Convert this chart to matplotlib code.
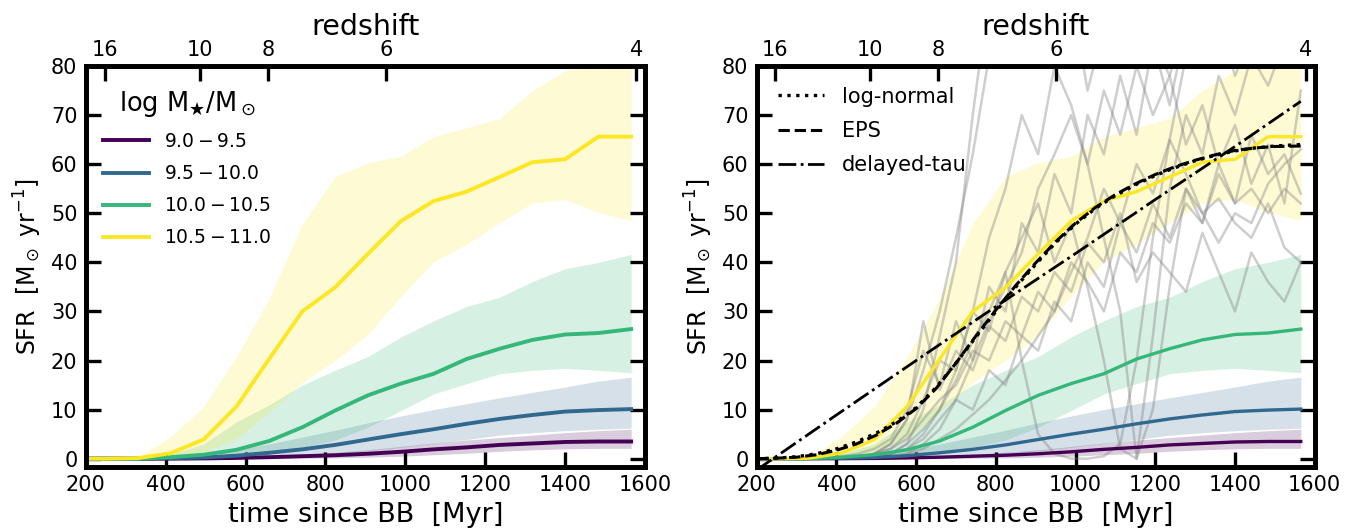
import numpy as np
import matplotlib
matplotlib.use("Agg")
import matplotlib.pyplot as plt
from matplotlib.lines import Line2D

plt.rcParams['font.family'] = ['DejaVu Sans']
plt.rcParams['mathtext.fontset'] = 'dejavusans'

# binned medians and 16-84 bands (time since Big Bang, Myr)
t_bin = [165, 248, 330, 412, 495, 577, 659, 742, 824, 906, 989, 1071, 1153, 1236, 1318, 1400, 1483, 1565]

sfr_95 = [0, 0, 0, 0, 0.05, 0.15, 0.3, 0.5, 0.7, 1.0, 1.4, 1.9, 2.3, 2.8, 3.1, 3.4, 3.5, 3.5]
lo_95 = [0, 0, 0, 0, 0, 0.02, 0.05, 0.1, 0.15, 0.3, 0.5, 0.8, 1.1, 1.5, 1.8, 2.0, 2.1, 2.1]
hi_95 = [0, 0, 0, 0, 0.1, 0.3, 0.6, 0.9, 1.3, 1.8, 2.5, 3.2, 3.8, 4.3, 4.8, 5.3, 5.7, 6.0]

sfr_100 = [0, 0, 0, 0.1, 0.25, 0.6, 1.2, 1.9, 2.8, 3.9, 5.0, 6.0, 7.1, 8.1, 8.9, 9.6, 9.9, 10.1]
lo_100 = [0, 0, 0, 0, 0.05, 0.15, 0.35, 0.6, 0.9, 1.6, 2.3, 3.1, 3.9, 4.8, 5.3, 5.7, 6.0, 6.2]
hi_100 = [0, 0, 0, 0.3, 0.8, 1.8, 3.0, 4.4, 5.8, 7.3, 8.7, 10.0, 11.2, 12.4, 13.5, 14.6, 15.8, 16.6]

sfr_105 = [0, 0, 0, 0.3, 0.8, 1.8, 3.6, 6.4, 9.8, 12.9, 15.3, 17.3, 20.3, 22.4, 24.2, 25.3, 25.6, 26.4]
lo_105 = [0, 0, 0, 0, 0.2, 0.5, 1.2, 2.3, 3.8, 6.4, 9.8, 13.2, 15.3, 17.3, 18.0, 18.4, 18.0, 17.5]
hi_105 = [0, 0, 0.2, 1.0, 3.0, 7.5, 11.0, 15.0, 18.0, 20.8, 24.8, 28.1, 31.0, 32.9, 36.1, 38.7, 40.0, 41.6]

sfr_110 = [0, 0, 0.1, 1.1, 3.9, 10.6, 20.3, 30.0, 34.9, 41.7, 48.4, 52.5, 54.4, 57.4, 60.4, 61.0, 65.6, 65.6]
lo_110 = [0, 0, 0, 0.2, 1.3, 4.0, 9.5, 15.5, 20.0, 25.3, 33.1, 40.2, 43.7, 48.1, 52.1, 52.8, 50.2, 48.5]
hi_110 = [0, 0, 0.3, 4.4, 10.6, 20.7, 32.6, 47.8, 57.4, 60.3, 61.6, 65.6, 67.4, 69.3, 75.0, 79.0, 82.0, 83.0]

bin_labels = [r'$9.0-9.5$', r'$9.5-10.0$', r'$10.0-10.5$', r'$10.5-11.0$']
bin_colors = ['#440154', '#31688e', '#35b779', '#fde725']

# parametric fits to the most massive bin
t_fit = [200, 250, 300, 350, 400, 450, 500, 550, 600, 650, 700, 750, 800, 850, 900,
         950, 1000, 1050, 1100, 1150, 1200, 1250, 1300, 1350, 1400, 1450, 1500, 1565]
sfr_lognormal = [0, 0.1, 0.4, 1.0, 2.0, 3.4, 5.2, 7.5, 10.4, 14.5, 19.5, 24.8, 30.0, 35.0, 39.6,
                 44.0, 47.8, 51.0, 53.6, 55.8, 57.7, 59.3, 60.7, 61.8, 62.7, 63.3, 63.7, 64.0]
sfr_eps = [0, 0.1, 0.3, 0.8, 1.7, 3.0, 4.8, 7.2, 10.2, 14.3, 19.5, 25.0, 30.3, 35.3, 39.9,
           44.2, 48.0, 51.2, 53.8, 56.0, 57.9, 59.5, 60.8, 61.9, 62.8, 63.3, 63.6, 63.7]
t_tau = [200, 400, 600, 800, 1000, 1200, 1400, 1565]
sfr_tau = [-2.3, 8.9, 20.0, 31.0, 41.8, 52.8, 63.6, 72.8]

# individual histories
t_ind = [371, 412, 453, 495, 536, 577, 618, 659, 700, 742, 783, 824, 865, 906, 947,
         989, 1030, 1071, 1112, 1153, 1194, 1236, 1277, 1318, 1359, 1400, 1441, 1483, 1524, 1565]
ind_tracks = [
    [0, 0, 0.5, 1, 3, 8, 18, 30, 45, 62, 82, 88, 84, 90, 86, 92, 88, 95, 90, 88, 92, 86, 94, 90, 88, 95, 90, 85, 92, 80],
    [0, 0.5, 1, 2, 4, 10, 22, 15, 28, 20, 35, 30, 48, 42, 58, 50, 70, 62, 78, 66, 85, 72, 88, 80, 90, 78, 86, 82, 88, 84],
    [0, 0, 0, 1, 2, 5, 12, 20, 18, 30, 26, 38, 20, 5, 1, 0, 0, 0.5, 3, 20, 45, 65, 82, 90, 85, 92, 88, 95, 86, 90],
    [0, 0, 0, 0, 1, 2, 4, 8, 12, 10, 18, 15, 25, 22, 32, 28, 40, 35, 48, 42, 52, 45, 55, 50, 53, 48, 45, 52, 43, 40],
    [0, 0, 0, 1, 3, 8, 28, 14, 22, 18, 27, 24, 33, 30, 38, 34, 44, 40, 50, 36, 42, 38, 34, 46, 38, 30, 42, 36, 32, 40],
    [0, 0, 0, 0.5, 1, 3, 6, 10, 16, 24, 30, 38, 45, 52, 40, 48, 35, 20, 2, 0, 25, 55, 70, 62, 78, 70, 82, 76, 85, 80],
    [0, 0, 0, 0, 0.5, 1, 3, 6, 12, 20, 28, 35, 42, 55, 62, 70, 60, 45, 30, 0, 10, 35, 55, 48, 60, 52, 66, 58, 62, 54],
    [0, 0, 0, 0, 1, 2, 5, 10, 18, 30, 45, 55, 70, 62, 80, 72, 60, 75, 66, 80, 70, 78, 64, 72, 60, 68, 56, 64, 52, 75],
    [0, 0, 0, 1, 2, 4, 8, 12, 15, 22, 20, 28, 25, 34, 30, 40, 36, 30, 42, 38, 48, 44, 52, 48, 58, 52, 55, 50, 55, 52],
    [0, 0, 0, 0, 0, 1, 2, 4, 6, 9, 12, 16, 20, 25, 30, 38, 45, 55, 48, 60, 54, 65, 58, 50, 44, 50, 48, 56, 60, 63],
    [0, 0, 0, 0, 1, 3, 10, 25, 40, 70, 95, 85, 100, 90, 82, 95, 75, 88, 80, 92, 85, 78, 90, 84, 80, 88, 82, 90, 85, 80],
]

# redshift ticks on the top axis (time at that redshift)
z_labels = ['16', '10', '8', '6', '4']
z_times = [247, 485, 656, 952, 1578]

medians = [sfr_95, sfr_100, sfr_105, sfr_110]
lows = [lo_95, lo_100, lo_105, lo_110]
highs = [hi_95, hi_100, hi_105, hi_110]


def style_axes(ax):
    ax.set_xlim(200, 1600)
    ax.set_ylim(-1.7, 80)
    ax.set_xticks(range(200, 1601, 200))
    ax.set_yticks(range(0, 81, 10))
    ax.tick_params(direction='in', length=11, width=2.4, labelsize=15, pad=6,
                   right=True, top=False)
    for sp in ax.spines.values():
        sp.set_linewidth(3.4)
    ax.set_xlabel('time since BB  [Myr]', fontsize=19.5, labelpad=5)
    ax.set_ylabel(r'SFR  [M$_\odot$ yr$^{-1}$]', fontsize=17, labelpad=5)

    axz = ax.twiny()
    axz.set_xlim(ax.get_xlim())
    axz.set_xticks(z_times)
    axz.set_xticklabels(z_labels)
    axz.tick_params(direction='in', length=11, width=2.4, labelsize=15, pad=4)
    for sp in axz.spines.values():
        sp.set_linewidth(3.4)
    axz.set_xlabel('redshift', fontsize=20.5, labelpad=4)
    return axz


fig = plt.figure(figsize=(13.61, 5.31), dpi=100)
ax1 = fig.add_axes([0.063, 0.1205, 0.411, 0.7552])
ax2 = fig.add_axes([0.556, 0.1205, 0.410, 0.7552])

# left panel
for med, lo, hi, c, lab in zip(medians, lows, highs, bin_colors, bin_labels):
    ax1.fill_between(t_bin, lo, hi, color=c, alpha=0.2, lw=0)
    ax1.plot(t_bin, med, color=c, lw=2.8, label=lab)

leg = ax1.legend(loc='upper left', frameon=False, fontsize=13.5,
                 title=r'log M$_\bigstar$/M$_\odot$', title_fontsize=18.5,
                 handlelength=2.5, handletextpad=0.8, labelspacing=0.7,
                 bbox_to_anchor=(0.0, 0.985))
style_axes(ax1)

# right panel
for tr in ind_tracks:
    ax2.plot(t_ind, tr, color='gray', alpha=0.38, lw=1.8)
for med, lo, hi, c in zip(medians, lows, highs, bin_colors):
    ax2.fill_between(t_bin, lo, hi, color=c, alpha=0.2, lw=0)
    ax2.plot(t_bin, med, color=c, lw=2.4)

ax2.plot(t_fit, sfr_lognormal, color='k', ls=':', lw=2.4)
ax2.plot(t_fit, sfr_eps, color='k', ls='--', lw=2.2)
ax2.plot(t_tau, sfr_tau, color='k', ls='-.', lw=2.0)

handles = [Line2D([], [], color='k', ls=':', lw=2.4),
           Line2D([], [], color='k', ls='--', lw=2.2),
           Line2D([], [], color='k', ls='-.', lw=2.0)]
ax2.legend(handles, ['log-normal', 'EPS', 'delayed-tau'], loc='upper left',
           frameon=False, fontsize=15,
           handlelength=2.2, handletextpad=0.85, labelspacing=0.68,
           bbox_to_anchor=(0.005, 0.995))
style_axes(ax2)

fig.savefig('out.png', dpi=100)
